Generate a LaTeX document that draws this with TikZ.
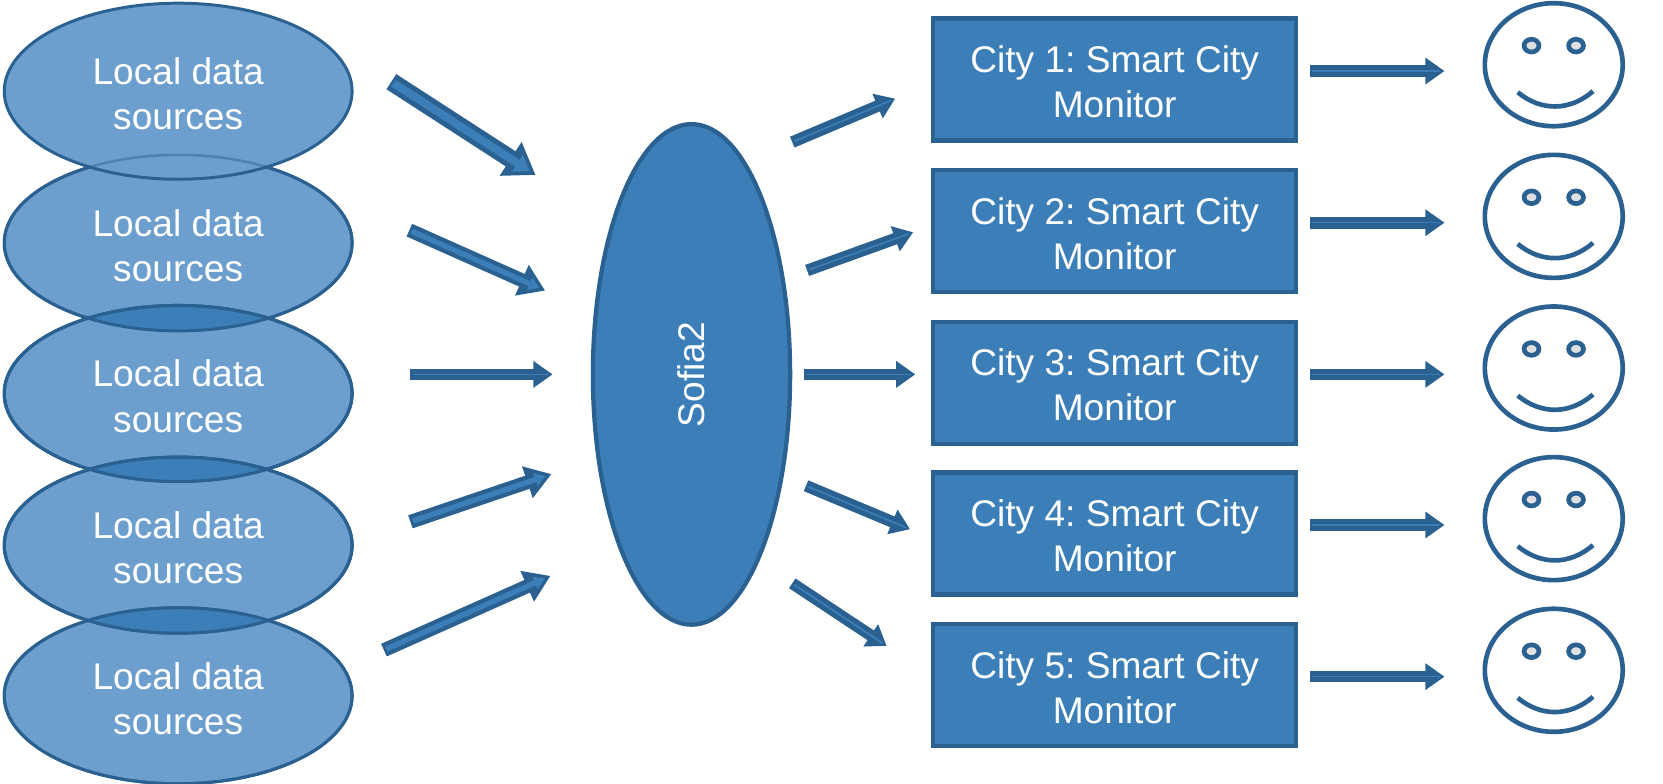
\documentclass[tikz,border=0pt]{standalone}
\usepackage{fontspec}
\setmainfont{Liberation Sans}
\usetikzlibrary{shapes.geometric,arrows.meta}
\definecolor{dk}{HTML}{2A6190}
\definecolor{md}{HTML}{3B7EB8}
\definecolor{lt}{HTML}{6C9FCD}
\newcommand{\blockarrow}[9]{%
  % from, to, outer width, head width, head length, inner width, inner head width, inner head length, inner end gap
  \draw[line width=#3pt,dk,-{Triangle[length=#5pt,width=#4pt]}] (#1) -- (#2);
  \draw[line width=#6pt,md,shorten <=1.2pt,shorten >=#9pt,-{Triangle[length=#8pt,width=#7pt]}] (#1) -- (#2);
}
\newcommand{\srctext}{Local data\\sources}
\tikzset{
  lbl/.style={text=white,font=\fontsize{17.5}{21.25}\selectfont\frenchspacing,align=center},
  src/.style={ellipse,draw=dk,line width=1.4pt,fill=lt,minimum width=164pt,minimum height=83pt,inner sep=0pt},
  srclbl/.style={label={[lbl,yshift=-1.3pt]center:{\srctext}}},
  hub/.style={ellipse,draw=dk,line width=2pt,fill=md,minimum width=93pt,minimum height=236pt,inner sep=0pt,lbl},
  city/.style={rectangle,draw=dk,line width=2pt,fill=md,minimum width=171pt,minimum height=57.5pt,inner sep=0pt},
  face/.style={ellipse,draw=dk,line width=2.2pt,fill=white,minimum width=65pt,minimum height=58pt,inner sep=0pt},
  eye/.style={ellipse,draw=dk,line width=2.2pt,fill=black!12,minimum width=7pt,minimum height=6pt,inner sep=0pt},
  mouth/.style={draw=dk,line width=2.2pt},
}
\begin{document}
\begin{tikzpicture}[x=0.5pt,y=-0.5pt]
\useasboundingbox (0,0) rectangle (1568,739.2);
\fill[white] (0,0) rectangle (1568,739.2);
\node[src,srclbl] (s2) at (168,229) {};
\node[src,srclbl] (s3) at (168,371) {};
\node[src,srclbl] (s4) at (168,514) {};
\node[src,srclbl] (s5) at (168,656) {};
% the lenses where the lower sources overlap, darker, with both outlines
\foreach \ya/\yb in {229/371,371/514,514/656}{
  \begin{scope}
    \clip (168,\ya) ellipse [x radius=164,y radius=83];
    \fill[md] (168,\yb) ellipse [x radius=164,y radius=83];
  \end{scope}
  \draw[dk,line width=1.4pt] (168,\ya) ellipse [x radius=164,y radius=83];
  \draw[dk,line width=1.4pt] (168,\yb) ellipse [x radius=164,y radius=83];
}
% the first source lies over the second, which shows only as a faint arc
\node[src,srclbl] (s1) at (168,86) {};
\begin{scope}
  \clip (168,86) ellipse [x radius=163,y radius=82];
  \draw[dk,line width=1.2pt,draw opacity=.45] (168,229) ellipse [x radius=164,y radius=83];
\end{scope}
\node[hub] (hub) at (652,353) {\rotatebox{90}{Sofia2}};
\foreach \i/\y in {1/75,2/218,3/361,4/503,5/646}{
  \node[city,label={[lbl,yshift=-1pt]center:{City \i: Smart City\\Monitor}}] (c\i) at (1051,\y) {};
  \coordinate (ca\i) at (1235,\y-8);
  \coordinate (cb\i) at (1362,\y-8);
  \blockarrow{ca\i}{cb\i}{5.5}{12}{9}{.7}{1}{1}{2}
  \begin{scope}[shift={(1465,\y-14)}]
    \node[face] (f\i) at (0,0) {};
    \node[eye] (fl\i) at (-21,-18) {};
    \node[eye] (fr\i) at (21,-18) {};
    \coordinate (ml\i) at (-34,26);
    \coordinate (mr\i) at (37,25);
    \draw[mouth] (ml\i) .. controls (-12,44) and (15,44) .. (mr\i);
  \end{scope}
}
\coordinate (a1) at (369,77);  \coordinate (a1e) at (505,165);
\coordinate (a2) at (386,217); \coordinate (a2e) at (514,274);
\coordinate (a3) at (387,353); \coordinate (a3e) at (521,353);
\coordinate (a4) at (387,492); \coordinate (a4e) at (520,447);
\coordinate (a5) at (362,613); \coordinate (a5e) at (519,543);
\blockarrow{a1}{a1e}{8.5}{18}{14}{3.8}{9}{7}{3.2}
\blockarrow{a2}{a2e}{6.5}{15}{12}{2.5}{6}{5}{3}
\blockarrow{a3}{a3e}{5.5}{12}{9}{.8}{1}{1}{2}
\blockarrow{a4}{a4e}{6.5}{15}{12}{2.5}{6}{5}{3}
\blockarrow{a5}{a5e}{6.5}{15}{12}{2.5}{6}{5}{3}
\coordinate (b1) at (747,134); \coordinate (b1e) at (844,93);
\coordinate (b2) at (761,255); \coordinate (b2e) at (861,219);
\coordinate (b3) at (758,353); \coordinate (b3e) at (863,353);
\coordinate (b4) at (760,458); \coordinate (b4e) at (858,499);
\coordinate (b5) at (747,550); \coordinate (b5e) at (836,609);
\blockarrow{b1}{b1e}{5.5}{12}{9}{.8}{1}{1}{2}
\blockarrow{b2}{b2e}{5.5}{12}{9}{.8}{1}{1}{2}
\blockarrow{b3}{b3e}{5.5}{12}{9}{.8}{1}{1}{2}
\blockarrow{b4}{b4e}{5.5}{12}{9}{.8}{1}{1}{2}
\blockarrow{b5}{b5e}{5.5}{12}{9}{.8}{1}{1}{2}
\end{tikzpicture}
\end{document}
